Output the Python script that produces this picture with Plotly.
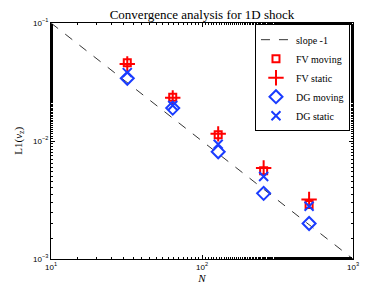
import plotly.graph_objects as go

N = [32, 64, 128, 256, 512]
fv_moving = [0.046, 0.0235, 0.0113, 0.0056, 0.0029]
fv_static = [0.045, 0.0232, 0.0115, 0.0059, 0.0032]
dg_moving = [0.034, 0.019, 0.0081, 0.0036, 0.0020]
dg_static = [0.038, 0.020, 0.0094, 0.0050, 0.0028]
slope_x = [10, 1000]
slope_y = [0.1, 0.001]

xtick_vals = [10, 100, 1000]
xtick_text = ["10<sup>1</sup>", "10<sup>2</sup>", "10<sup>3</sup>"]
ytick_vals = [0.001, 0.01, 0.1]
ytick_text = ["10<sup>−3</sup>", "10<sup>−2</sup>", "10<sup>−1</sup>"]

RED = "#ff0000"
BLUE = "#1a3cff"
SERIF = "Liberation Serif, DejaVu Serif, serif"
SANS = "Liberation Sans, Arial, sans-serif"

fig = go.Figure()
fig.add_trace(go.Scatter(x=slope_x, y=slope_y, mode="lines", name="slope -1",
                         line=dict(color="black", width=0.8, dash="dash")))
fig.add_trace(go.Scatter(x=N, y=fv_moving, mode="markers", name="FV moving",
                         marker=dict(symbol="square-open", size=7, color=RED,
                                     line=dict(color=RED, width=2))))
fig.add_trace(go.Scatter(x=N, y=fv_static, mode="markers", name="FV static",
                         marker=dict(symbol="cross-thin-open", size=11, color=RED,
                                     line=dict(color=RED, width=2))))
fig.add_trace(go.Scatter(x=N, y=dg_moving, mode="markers", name="DG moving",
                         marker=dict(symbol="diamond-open", size=10, color=BLUE,
                                     line=dict(color=BLUE, width=2))))
fig.add_trace(go.Scatter(x=N, y=dg_static, mode="markers", name="DG static",
                         marker=dict(symbol="x-thin-open", size=9, color=BLUE,
                                     line=dict(color=BLUE, width=2))))

axis_common = dict(type="log", showgrid=False, zeroline=False, showline=True,
                   linecolor="black", linewidth=1, mirror="ticks",
                   ticks="inside", ticklen=4, tickcolor="black", automargin=False,
                   tickfont=dict(family=SANS, size=8, color="black"),
                   minor=dict(ticks="inside", ticklen=2, tickcolor="black", showgrid=False))

fig.update_layout(
    width=382, height=285,
    margin=dict(l=43, r=37, t=15, b=34),
    paper_bgcolor="white", plot_bgcolor="white",
    title=dict(text="Convergence analysis for 1D shock", x=0.5, xref="paper",
               xanchor="center", y=0.977, yref="container", yanchor="middle",
               automargin=False,
               font=dict(family=SERIF, size=13, color="black")),
    xaxis=dict(range=[1, 3], tickvals=xtick_vals, ticktext=xtick_text,
               title=dict(text="<i>N</i>", font=dict(family=SERIF, size=11, color="black"),
                          standoff=2),
               **axis_common),
    yaxis=dict(range=[-3, -1], tickvals=ytick_vals, ticktext=ytick_text,
               **axis_common),
    annotations=[dict(text="L1(<i>v</i><sub>z</sub>)", xref="paper", yref="paper",
                      x=-0.107, y=0.5, xanchor="center", yanchor="middle",
                      textangle=-90, showarrow=False,
                      font=dict(family=SERIF, size=11, color="black"))],
    showlegend=True,
    legend=dict(x=0.99, y=0.995, xanchor="right", yanchor="top",
                bgcolor="white", bordercolor="black", borderwidth=1,
                font=dict(family=SERIF, size=10, color="black"),
                tracegroupgap=0, itemwidth=30),
)

fig.write_html("out.html")
